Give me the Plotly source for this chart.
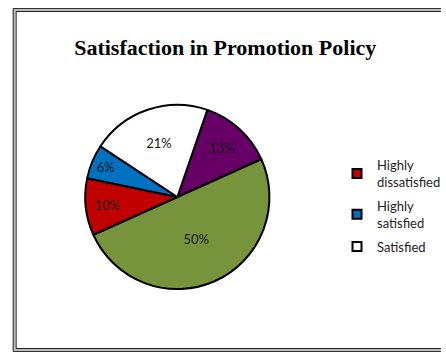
import plotly.graph_objects as go

# Survey responses on promotion policy (percent of respondents)
categories = ["Dissatisfied", "Neutral", "Highly dissatisfied", "Highly satisfied", "Satisfied"]
shares = [13, 50, 10, 6, 21]
colors = ["#660066", "#77933C", "#C00000", "#0070C0", "#FFFFFF"]

# Entries listed in the legend box
legend_items = ["Highly dissatisfied", "Highly satisfied", "Satisfied"]
legend_labels = ["Highly<br>dissatisfied", "Highly<br>satisfied", "Satisfied"]

W, H = 446, 352

fig = go.Figure()

fig.add_trace(go.Pie(
    labels=categories,
    values=shares,
    sort=False,
    direction="clockwise",
    rotation=19,
    marker=dict(colors=colors, line=dict(color="#000000", width=2)),
    texttemplate="%{percent:.0%}",
    textposition="inside",
    insidetextorientation="horizontal",
    textfont=dict(family="Lato, Open Sans, sans-serif", size=13, color="#1a1a1a"),
    showlegend=False,
    hoverinfo="label+percent",
    domain=dict(x=[(181 - 94) / W, (181 + 94) / W], y=[1 - (197 + 94) / H, 1 - (197 - 94) / H]),
))

color_of = dict(zip(categories, colors))
for name, lab in zip(legend_items, legend_labels):
    fig.add_trace(go.Scatter(
        x=[None], y=[None], mode="markers", name=lab, legendgroup=name,
        marker=dict(symbol="square", size=9, color=color_of[name],
                    line=dict(color="#000000", width=2)),
    ))

def px_x(v):
    return v / W

def px_y(v):
    return 1 - v / H

def open_frame(left, top, bottom, right, color, width):
    # top, left and bottom edges of the chart frame (it runs off the right side)
    p = "M {r} {t} L {l} {t} L {l} {b} L {r} {b}".format(
        r=px_x(right), t=px_y(top), l=px_x(left), b=px_y(bottom))
    return dict(type="path", xref="paper", yref="paper", path=p,
                line=dict(color=color, width=width))

shapes = [
    open_frame(14.5, 9.5, 350, 450, "#BBBBBB", 3),
    open_frame(13.5, 8.5, 351.5, 450, "#333333", 1),
    open_frame(16.5, 11.5, 348.5, 450, "#222222", 1),
]

fig.update_layout(
    width=W, height=H,
    margin=dict(l=0, r=0, t=0, b=0),
    paper_bgcolor="#FFFFFF",
    plot_bgcolor="#FFFFFF",
    xaxis=dict(visible=False),
    yaxis=dict(visible=False),
    shapes=shapes,
    title=dict(
        text="<b>Satisfaction in Promotion Policy</b>",
        x=0.505, xanchor="center", y=px_y(47), yanchor="middle",
        font=dict(family="Liberation Serif, Times New Roman, serif", size=22, color="#000000"),
    ),
    legend=dict(
        x=px_x(344), y=px_y(150), xanchor="left", yanchor="top",
        font=dict(family="Lato, Open Sans, sans-serif", size=13, color="#222222"),
        bgcolor="rgba(0,0,0,0)",
        itemwidth=30,
        tracegroupgap=4,
    ),
)

# keep the page itself from scrolling around the fixed-size figure
page_css = (
    "document.body.style.margin='0';"
    "document.body.style.overflow='hidden';"
    "document.documentElement.style.overflow='hidden';"
)

fig.write_html("out.html", config={"displayModeBar": False}, post_script=page_css)
